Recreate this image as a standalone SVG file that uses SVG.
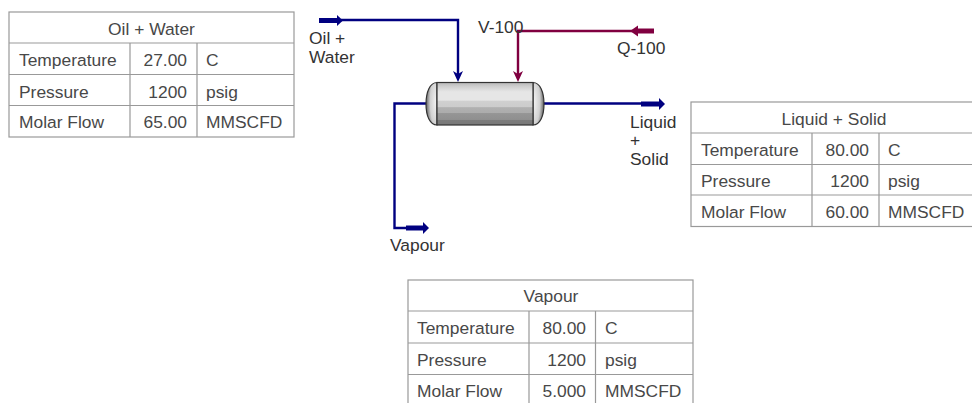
<svg xmlns="http://www.w3.org/2000/svg" width="972" height="403" viewBox="0 0 972 403">
<style>
text{font-family:"Liberation Sans",Arial,sans-serif;font-size:17.4px;fill:#484848}
.lbl{fill:#333}
.grid{fill:#fff;stroke:#999;stroke-width:1.2}
.ln{stroke:#999;stroke-width:1.2;fill:none}
.blue{stroke:#000080;fill:none;stroke-width:2.4}
.maroon{stroke:#800040;fill:none;stroke-width:2.4}
.bthick{stroke:#000080;fill:none;stroke-width:5}
.mthick{stroke:#800040;fill:none;stroke-width:5}
.m{text-anchor:middle}.e{text-anchor:end}
</style>
<defs>
<linearGradient id="body" x1="0" y1="0" x2="0" y2="1">
<stop offset="0" stop-color="#b8b8b8"/><stop offset=".1" stop-color="#d0d0d0"/><stop offset=".22" stop-color="#e6e6e6"/><stop offset=".42" stop-color="#e6e6e6"/><stop offset=".43" stop-color="#d0d0d0"/><stop offset=".58" stop-color="#cccccc"/><stop offset=".59" stop-color="#b0b0b0"/><stop offset=".72" stop-color="#acacac"/><stop offset=".73" stop-color="#959595"/><stop offset=".87" stop-color="#909090"/><stop offset=".88" stop-color="#7c7c7c"/><stop offset="1" stop-color="#787878"/>
</linearGradient>
<radialGradient id="capL" cx=".95" cy=".45" r=".95">
<stop offset="0" stop-color="#f4f4f4"/><stop offset=".6" stop-color="#d0d0d0"/><stop offset="1" stop-color="#606060"/>
</radialGradient>
<radialGradient id="capR" cx=".05" cy=".45" r=".95">
<stop offset="0" stop-color="#f4f4f4"/><stop offset=".6" stop-color="#d0d0d0"/><stop offset="1" stop-color="#606060"/>
</radialGradient>
</defs>

<g id="connectors">
<path class="blue" d="M341 20H458V76"/>
<path class="bthick" d="M319 20.500H338"/>
<path d="M337 15L343 20.500L337 26Z" fill="#000080"/>
<path d="M453 71L458 82L463 71L458 74Z" fill="#000080"/>
<path class="maroon" d="M633 31H518V76"/>
<path class="mthick" d="M654 31H636"/>
<path d="M638 25.500L630 31L638 36.500Z" fill="#800040"/>
<path d="M513 71L518 82L523 71L518 74Z" fill="#800040"/>
<path class="blue" d="M427 103.500H394.500V228H408"/>
<path class="bthick" d="M406 228H425"/>
<path d="M423 222L429 228L423 234Z" fill="#000080"/>
<path class="blue" d="M544 103.500H642"/>
<path class="bthick" d="M641 104H661"/>
<path d="M659 98L665 104L659 110Z" fill="#000080"/>
</g>

<g id="vessel-V-100">
<path d="M437 82.500C430 82.500 426 92 426 104C426 116 430 125 437 125Z" fill="url(#capL)" stroke="#333" stroke-width="1.2"/>
<path d="M533 82.500C540 82.500 544 92 544 104C544 116 540 125 533 125Z" fill="url(#capR)" stroke="#333" stroke-width="1.2"/>
<rect x="437" y="82.500" width="96" height="42.500" fill="url(#body)" stroke="#333" stroke-width="1.2"/>
<text class="lbl" x="478" y="33">V-100</text>
</g>

<g id="label-oil-water"><text class="lbl" x="309" y="43.500">Oil +</text><text class="lbl" x="309" y="63">Water</text></g>
<g id="label-q-100"><text class="lbl" x="617" y="54">Q-100</text></g>
<g id="label-liquid-solid"><text class="lbl" x="630" y="127.500">Liquid</text><text class="lbl" x="630" y="146">+</text><text class="lbl" x="630" y="165">Solid</text></g>
<g id="label-vapour"><text class="lbl" x="390" y="251">Vapour</text></g>

<g id="table-oil-water">
<rect class="grid" x="9" y="12" width="285" height="125"/>
<path class="ln" d="M9 43H294M9 74.500H294M9 105.500H294M130 43V137M197 43V137"/>
<text class="m" x="151.500" y="34.500">Oil + Water</text>
<text x="19" y="66">Temperature</text><text class="e" x="187" y="66">27.00</text><text x="206" y="66">C</text>
<text x="19" y="97.500">Pressure</text><text class="e" x="187" y="97.500">1200</text><text x="206" y="97.500">psig</text>
<text x="19" y="128">Molar Flow</text><text class="e" x="187" y="128">65.00</text><text x="206" y="128">MMSCFD</text>
</g>

<g id="table-liquid-solid">
<rect class="grid" x="691" y="102" width="285" height="124.500"/>
<path class="ln" d="M691 133H976M691 164.500H976M691 195H976M812 133V226.500M879 133V226.500"/>
<text class="m" x="834" y="124.500">Liquid + Solid</text>
<text x="701" y="156">Temperature</text><text class="e" x="869" y="156">80.00</text><text x="888" y="156">C</text>
<text x="701" y="187">Pressure</text><text class="e" x="869" y="187">1200</text><text x="888" y="187">psig</text>
<text x="701" y="218">Molar Flow</text><text class="e" x="869" y="218">60.00</text><text x="888" y="218">MMSCFD</text>
</g>

<g id="table-vapour">
<rect class="grid" x="408" y="280" width="285" height="130"/>
<path class="ln" d="M408 311H693M408 343H693M408 374.500H693M529 311V410M595.500 311V410"/>
<text class="m" x="551" y="302">Vapour</text>
<text x="417" y="334">Temperature</text><text class="e" x="586" y="334">80.00</text><text x="605" y="334">C</text>
<text x="417" y="366">Pressure</text><text class="e" x="586" y="366">1200</text><text x="605" y="366">psig</text>
<text x="417" y="397">Molar Flow</text><text class="e" x="586" y="397">5.000</text><text x="605" y="397">MMSCFD</text>
</g>
</svg>
